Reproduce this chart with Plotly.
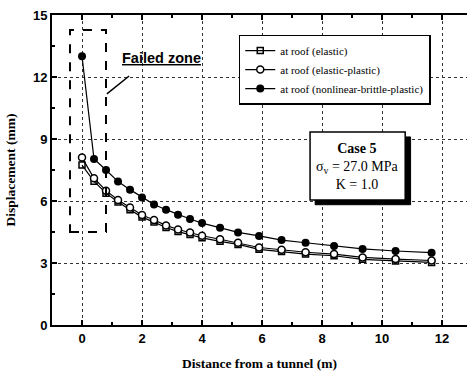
import plotly.graph_objects as go

distance = [0, 0.4, 0.8, 1.2, 1.6, 2.0, 2.4, 2.8, 3.2, 3.6, 4.0, 4.6, 5.2, 5.9, 6.65, 7.45, 8.4, 9.35, 10.45, 11.65]
elastic = [7.74, 6.95, 6.38, 5.95, 5.58, 5.22, 4.98, 4.72, 4.52, 4.38, 4.22, 4.05, 3.9, 3.66, 3.56, 3.43, 3.35, 3.18, 3.1, 3.03]
elastic_plastic = [8.1, 7.1, 6.5, 6.05, 5.68, 5.32, 5.08, 4.82, 4.62, 4.48, 4.32, 4.15, 3.98, 3.75, 3.64, 3.52, 3.43, 3.27, 3.19, 3.12]
nonlinear = [13.0, 8.03, 7.5, 6.94, 6.55, 6.17, 5.83, 5.58, 5.34, 5.13, 4.93, 4.71, 4.48, 4.31, 4.11, 3.98, 3.82, 3.68, 3.58, 3.5]
names = ["at roof (elastic)", "at roof (elastic-plastic)", "at roof (nonlinear-brittle-plastic)"]
x_ticks = [0, 2, 4, 6, 8, 10, 12]
y_ticks = [0, 3, 6, 9, 12, 15]

serif = "Liberation Serif, Times New Roman, serif"
sans = "Liberation Sans, Arial, sans-serif"

fig = go.Figure()
fig.add_trace(go.Scatter(x=distance, y=elastic, name=names[0], mode="lines+markers",
                         line=dict(color="black", width=1.2),
                         marker=dict(symbol="square-open", size=6, color="black", line=dict(width=1.5))))
fig.add_trace(go.Scatter(x=distance, y=elastic_plastic, name=names[1], mode="lines+markers",
                         line=dict(color="black", width=1.2),
                         marker=dict(symbol="circle", size=7, color="white", line=dict(width=1.5, color="black"))))
fig.add_trace(go.Scatter(x=distance, y=nonlinear, name=names[2], mode="lines+markers",
                         line=dict(color="black", width=1.2),
                         marker=dict(symbol="circle", size=8, color="black")))

shapes = [
    # failed zone dashed box
    dict(type="rect", xref="x", yref="y", x0=-0.4, x1=0.8, y0=4.5, y1=14.27,
         line=dict(color="black", width=2, dash="dash"), fillcolor="rgba(0,0,0,0)"),
    # pointer line
    dict(type="line", xref="x", yref="y", x0=0.83, y0=11.18, x1=1.57, y1=12.05,
         line=dict(color="black", width=1.5)),
    # case box shadow
    dict(type="rect", xref="x", yref="y", x0=7.77, x1=10.95, y0=5.82, y1=9.1,
         line=dict(color="black", width=1), fillcolor="black", layer="above"),
    # case box
    dict(type="rect", xref="x", yref="y", x0=7.6, x1=10.77, y0=6.05, y1=9.34,
         line=dict(color="black", width=1.5), fillcolor="white", layer="above"),
]

annotations = [
    dict(x=2.65, y=12.92, xref="x", yref="y", text="<b><u>Failed zone</u></b>", showarrow=False,
         font=dict(family=sans, size=14.5, color="black")),
    dict(x=9.18, y=7.69, xref="x", yref="y",
         text="<b>Case 5</b><br>σ<sub>v</sub> = 27.0 MPa<br>K = 1.0", showarrow=False,
         font=dict(family=serif, size=14, color="black"), align="center"),
]

fig.update_layout(
    width=467, height=371,
    margin=dict(l=52, r=0, t=15, b=46, autoexpand=False),
    plot_bgcolor="white", paper_bgcolor="white",
    showlegend=True,
    legend=dict(x=0.45, y=0.937, xanchor="left", yanchor="top",
                bgcolor="white", bordercolor="black", borderwidth=1.5,
                font=dict(family=serif, size=11, color="black"),
                itemwidth=30, tracegroupgap=0),
    shapes=shapes, annotations=annotations,
    xaxis=dict(range=[-1, 12.83], tickvals=x_ticks, ticktext=[str(v) for v in x_ticks],
               ticks="inside", ticklen=5, tickwidth=1.5, tickcolor="black",
               minor=dict(dtick=1, tick0=1, ticks="inside", ticklen=3, tickcolor="black", showgrid=False),
               showline=True, linecolor="black", linewidth=2, mirror="ticks",
               showgrid=True, gridcolor="#333", griddash="dot", gridwidth=1,
               zeroline=False, automargin=False,
               tickfont=dict(family=sans, size=13, color="black", weight="bold"),
               title=dict(text="Distance from a tunnel (m)",
                          font=dict(family=serif, size=13.5, color="black", weight="bold"),
                          standoff=14)),
    yaxis=dict(range=[0, 15], tickvals=y_ticks, ticktext=[str(v) for v in y_ticks],
               ticks="inside", ticklen=5, tickwidth=1.5, tickcolor="black",
               minor=dict(dtick=1.5, tick0=0, ticks="inside", ticklen=3, tickcolor="black", showgrid=False),
               showline=True, linecolor="black", linewidth=2, mirror=False,
               showgrid=True, gridcolor="#333", griddash="dot", gridwidth=1,
               zeroline=False, automargin=False,
               tickfont=dict(family=sans, size=13, color="black", weight="bold"),
               title=dict(text="Displacement (mm)",
                          font=dict(family=serif, size=13.5, color="black", weight="bold"),
                          standoff=14)),
)

fig.write_html("out.html", config={"displayModeBar": False},
               post_script="document.body.style.margin='0';document.body.style.padding='0';")
